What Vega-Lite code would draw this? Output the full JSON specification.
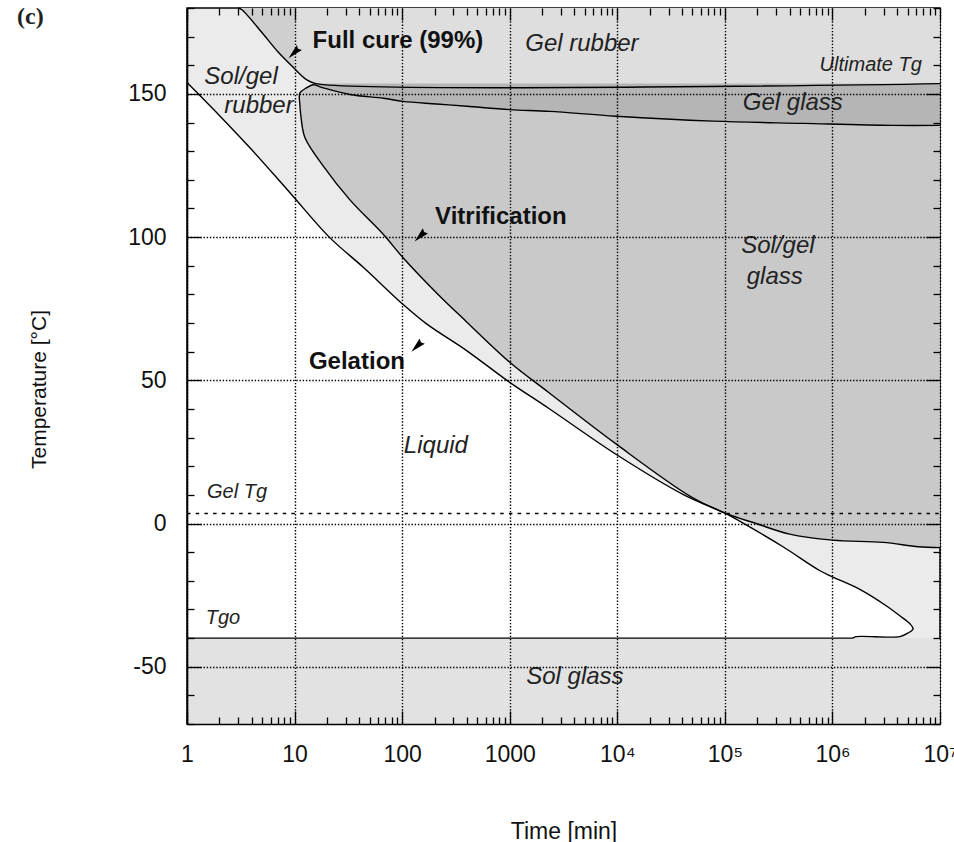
{
  "$schema": "https://vega.github.io/schema/vega-lite/v6.json",
  "width": 753,
  "height": 716,
  "autosize": "none",
  "padding": {"left": 187, "top": 8, "right": 14, "bottom": 118},
  "background": "white",
  "view": {"fill": "#ebebeb", "stroke": "#000", "strokeWidth": 1.5},
  "title": {"text": "(c)", "anchor": "start", "frame": "group", "font": "Liberation Serif", "fontSize": 24, "fontWeight": "bold", "color": "#222", "dx": -170, "dy": 51, "offset": 0, "baseline": "alphabetic"},
  "datasets": {
    "solglass": [{"t": 1, "T": -70, "T2": -40}, {"t": 10000000, "T": -70, "T2": -40}],
    "gelrubber": [
      {"t": 3.0, "T": 180, "T2": 180}, {"t": 3.24, "T": 179.4, "T2": 180}, {"t": 5.08, "T": 171, "T2": 180},
      {"t": 7.0, "T": 164.7, "T2": 180}, {"t": 9.7, "T": 159.3, "T2": 180}, {"t": 12.9, "T": 155, "T2": 180},
      {"t": 15.8, "T": 153.6, "T2": 180}, {"t": 10000000, "T": 153.6, "T2": 180}
    ],
    "wedge": [
      {"t": 3.0, "T": 180, "T2": 180}, {"t": 3.24, "T": 179.4, "T2": 180}, {"t": 5.08, "T": 171, "T2": 180},
      {"t": 7.0, "T": 164.7, "T2": 180}, {"t": 9.7, "T": 159.3, "T2": 180}, {"t": 10, "T": 158.9, "T2": 180}
    ],
    "liquid": [
      {"t": 1, "T": -40, "T2": 154}, {"t": 2, "T": -40, "T2": 142.5}, {"t": 4, "T": -40, "T2": 130.5},
      {"t": 9.06, "T": -40, "T2": 115.5}, {"t": 21, "T": -40, "T2": 100}, {"t": 44, "T": -40, "T2": 89.3},
      {"t": 102, "T": -40, "T2": 76.5}, {"t": 170, "T": -40, "T2": 69.6}, {"t": 400, "T": -40, "T2": 60.3},
      {"t": 1000, "T": -40, "T2": 49.3}, {"t": 2350, "T": -40, "T2": 40}, {"t": 9800, "T": -40, "T2": 24.1},
      {"t": 40700, "T": -40, "T2": 10.2}, {"t": 100000, "T": -40, "T2": 3.6}, {"t": 170000, "T": -40, "T2": -1.2},
      {"t": 350000, "T": -40, "T2": -8.2}, {"t": 760000, "T": -40, "T2": -16.4}, {"t": 1000000, "T": -40, "T2": -18.6},
      {"t": 1550000, "T": -40, "T2": -21.8}, {"t": 1660000, "T": -39.5, "T2": -22.3}, {"t": 1780000, "T": -39.5, "T2": -22.9},
      {"t": 3160000, "T": -39.5, "T2": -28.7}, {"t": 4230000, "T": -39.5, "T2": -32.2}, {"t": 5000000, "T": -38.3, "T2": -34.3},
      {"t": 5250000, "T": -37.8, "T2": -35}, {"t": 5620000, "T": -36.8, "T2": -36.8}
    ],
    "solgelglass": [
      {"t": 11.2, "T": 146.3, "T2": 150.3}, {"t": 11.5, "T": 141.6, "T2": 151}, {"t": 12.5, "T": 134.7, "T2": 151.7},
      {"t": 12.9, "T": 133.7, "T2": 152.1}, {"t": 14.9, "T": 129.5, "T2": 153.2}, {"t": 18.5, "T": 124.8, "T2": 152.1},
      {"t": 32.7, "T": 113, "T2": 149.8}, {"t": 67, "T": 100.9, "T2": 148.5}, {"t": 102, "T": 92.8, "T2": 147.4},
      {"t": 209, "T": 80.5, "T2": 146.5}, {"t": 400, "T": 70.3, "T2": 145.7}, {"t": 1000, "T": 56.3, "T2": 144.5},
      {"t": 2350, "T": 45.5, "T2": 143.9}, {"t": 9800, "T": 27.7, "T2": 142.2}, {"t": 47300, "T": 9.6, "T2": 140.9},
      {"t": 77600, "T": 5.7, "T2": 140.5}, {"t": 98000, "T": 3.8, "T2": 140.4}, {"t": 195000, "T": 0, "T2": 140.1},
      {"t": 400000, "T": -3.7, "T2": 139.9}, {"t": 540000, "T": -4.6, "T2": 139.7}, {"t": 1000000, "T": -5.8, "T2": 139.5},
      {"t": 2950000, "T": -6.6, "T2": 139.1}, {"t": 3600000, "T": -7, "T2": 139}, {"t": 6300000, "T": -8.1, "T2": 139},
      {"t": 10000000, "T": -8.4, "T2": 139}
    ],
    "gelglass": [
      {"t": 14.9, "T": 153.2, "T2": 153.6}, {"t": 18.5, "T": 152.1, "T2": 153.6}, {"t": 32.7, "T": 149.8, "T2": 153.6},
      {"t": 67, "T": 148.5, "T2": 153.6}, {"t": 102, "T": 147.4, "T2": 153.6}, {"t": 209, "T": 146.5, "T2": 153.6},
      {"t": 400, "T": 145.7, "T2": 153.6}, {"t": 1000, "T": 144.5, "T2": 153.6}, {"t": 2350, "T": 143.9, "T2": 153.6},
      {"t": 9800, "T": 142.2, "T2": 153.6}, {"t": 77600, "T": 140.5, "T2": 153.6}, {"t": 540000, "T": 139.7, "T2": 153.6},
      {"t": 3600000, "T": 139, "T2": 153.6}, {"t": 10000000, "T": 139, "T2": 153.6}
    ],
    "geltg": [{"t": 1, "T": 3.5}, {"t": 10000000, "T": 3.5}],
    "curves": [
      {"curve": "gelation", "i": 1, "t": 1, "T": 154}, {"curve": "gelation", "i": 2, "t": 2, "T": 142.5},
      {"curve": "gelation", "i": 3, "t": 4, "T": 130.5}, {"curve": "gelation", "i": 4, "t": 9.06, "T": 115.5},
      {"curve": "gelation", "i": 5, "t": 21, "T": 100}, {"curve": "gelation", "i": 6, "t": 44, "T": 89.3},
      {"curve": "gelation", "i": 7, "t": 102, "T": 76.5}, {"curve": "gelation", "i": 8, "t": 170, "T": 69.6},
      {"curve": "gelation", "i": 9, "t": 400, "T": 60.3}, {"curve": "gelation", "i": 10, "t": 1000, "T": 49.3},
      {"curve": "gelation", "i": 11, "t": 2350, "T": 40}, {"curve": "gelation", "i": 12, "t": 9800, "T": 24.1},
      {"curve": "gelation", "i": 13, "t": 40700, "T": 10.2}, {"curve": "gelation", "i": 14, "t": 100000, "T": 3.6},
      {"curve": "gelation", "i": 15, "t": 170000, "T": -1.2}, {"curve": "gelation", "i": 16, "t": 350000, "T": -8.2},
      {"curve": "gelation", "i": 17, "t": 760000, "T": -16.4}, {"curve": "gelation", "i": 18, "t": 1000000, "T": -18.6},
      {"curve": "gelation", "i": 19, "t": 1780000, "T": -22.9}, {"curve": "gelation", "i": 20, "t": 3160000, "T": -28.7},
      {"curve": "gelation", "i": 21, "t": 4230000, "T": -32.2}, {"curve": "gelation", "i": 22, "t": 5250000, "T": -35},
      {"curve": "gelation", "i": 23, "t": 5620000, "T": -36.8}, {"curve": "gelation", "i": 24, "t": 5000000, "T": -38.3},
      {"curve": "gelation", "i": 25, "t": 4230000, "T": -39.5}, {"curve": "gelation", "i": 26, "t": 1660000, "T": -39.5},
      {"curve": "gelation", "i": 27, "t": 1550000, "T": -40},
      {"curve": "vitrification", "i": 1, "t": 10000000, "T": 139}, {"curve": "vitrification", "i": 2, "t": 3600000, "T": 139},
      {"curve": "vitrification", "i": 3, "t": 540000, "T": 139.7}, {"curve": "vitrification", "i": 4, "t": 77600, "T": 140.5},
      {"curve": "vitrification", "i": 5, "t": 9800, "T": 142.2}, {"curve": "vitrification", "i": 6, "t": 2350, "T": 143.9},
      {"curve": "vitrification", "i": 7, "t": 1000, "T": 144.5}, {"curve": "vitrification", "i": 8, "t": 400, "T": 145.7},
      {"curve": "vitrification", "i": 9, "t": 209, "T": 146.5}, {"curve": "vitrification", "i": 10, "t": 102, "T": 147.4},
      {"curve": "vitrification", "i": 11, "t": 67, "T": 148.5}, {"curve": "vitrification", "i": 12, "t": 32.7, "T": 149.8},
      {"curve": "vitrification", "i": 13, "t": 18.5, "T": 152.1}, {"curve": "vitrification", "i": 14, "t": 14.9, "T": 153.2},
      {"curve": "vitrification", "i": 15, "t": 12.9, "T": 152.1}, {"curve": "vitrification", "i": 16, "t": 11.2, "T": 150.3},
      {"curve": "vitrification", "i": 17, "t": 11.2, "T": 146.3}, {"curve": "vitrification", "i": 18, "t": 11.5, "T": 141.6},
      {"curve": "vitrification", "i": 19, "t": 12.5, "T": 134.7}, {"curve": "vitrification", "i": 20, "t": 18.5, "T": 124.8},
      {"curve": "vitrification", "i": 21, "t": 32.7, "T": 113}, {"curve": "vitrification", "i": 22, "t": 67, "T": 100.9},
      {"curve": "vitrification", "i": 23, "t": 102, "T": 92.8}, {"curve": "vitrification", "i": 24, "t": 209, "T": 80.5},
      {"curve": "vitrification", "i": 25, "t": 400, "T": 70.3}, {"curve": "vitrification", "i": 26, "t": 1000, "T": 56.3},
      {"curve": "vitrification", "i": 27, "t": 2350, "T": 45.5}, {"curve": "vitrification", "i": 28, "t": 9800, "T": 27.7},
      {"curve": "vitrification", "i": 29, "t": 47300, "T": 9.6}, {"curve": "vitrification", "i": 30, "t": 98000, "T": 3.8},
      {"curve": "vitrification", "i": 31, "t": 195000, "T": 0}, {"curve": "vitrification", "i": 32, "t": 400000, "T": -3.7},
      {"curve": "vitrification", "i": 33, "t": 1000000, "T": -5.8}, {"curve": "vitrification", "i": 34, "t": 2950000, "T": -6.6},
      {"curve": "vitrification", "i": 35, "t": 6300000, "T": -8.1}, {"curve": "vitrification", "i": 36, "t": 10000000, "T": -8.4},
      {"curve": "fullcure", "i": 1, "t": 3.0, "T": 180}, {"curve": "fullcure", "i": 2, "t": 3.24, "T": 179.4},
      {"curve": "fullcure", "i": 3, "t": 5.08, "T": 171}, {"curve": "fullcure", "i": 4, "t": 7.0, "T": 164.7},
      {"curve": "fullcure", "i": 5, "t": 9.7, "T": 159.3}, {"curve": "fullcure", "i": 6, "t": 12.9, "T": 155},
      {"curve": "fullcure", "i": 7, "t": 15.8, "T": 153.6}, {"curve": "fullcure", "i": 8, "t": 10000000, "T": 153.6},
      {"curve": "tgo", "i": 1, "t": 1, "T": -40}, {"curve": "tgo", "i": 2, "t": 1550000, "T": -40}
    ],
    "boldlabels": [
      {"t": 91.4, "T": 168.6, "label": "Full cure (99%)"},
      {"t": 828, "T": 106.9, "label": "Vitrification"},
      {"t": 38, "T": 56.4, "label": "Gelation"}
    ],
    "italiclabels": [
      {"t": 4690, "T": 167.5, "label": "Gel rubber"},
      {"t": 3.18, "T": 156.0, "label": "Sol/gel"},
      {"t": 4.67, "T": 145.9, "label": "rubber"},
      {"t": 428000, "T": 146.8, "label": "Gel glass"},
      {"t": 311000, "T": 96.9, "label": "Sol/gel"},
      {"t": 291000, "T": 86.2, "label": "glass"},
      {"t": 206, "T": 27, "label": "Liquid"},
      {"t": 4036, "T": -53.7, "label": "Sol glass"}
    ],
    "smalllabels": [
      {"t": 2270000, "T": 160.2, "label": "Ultimate Tg"},
      {"t": 2.92, "T": 10.9, "label": "Gel Tg"},
      {"t": 2.16, "T": -33.0, "label": "Tgo"}
    ],
    "arrows": [
      {"t": 10.1, "T": 164.7},
      {"t": 150, "T": 100.7},
      {"t": 140, "T": 62.2}
    ]
  },
  "encoding": {
    "x": {"field": "t", "type": "quantitative", "scale": {"type": "log", "domain": [1, 10000000], "nice": false}, "axis": null},
    "y": {"field": "T", "type": "quantitative", "scale": {"domain": [-70, 180], "nice": false, "zero": false}, "axis": null}
  },
  "layer": [
    {
      "data": {"name": "solglass"},
      "mark": {"type": "area", "color": "#e2e2e2"},
      "encoding": {
        "x": {"field": "t", "type": "quantitative", "scale": {"type": "log", "domain": [1, 10000000], "nice": false},
          "axis": {
            "orient": "bottom",
            "values": [1,2,3,4,5,6,7,8,9,10,20,30,40,50,60,70,80,90,100,200,300,400,500,600,700,800,900,1000,2000,3000,4000,5000,6000,7000,8000,9000,10000,20000,30000,40000,50000,60000,70000,80000,90000,100000,200000,300000,400000,500000,600000,700000,800000,900000,1000000,2000000,3000000,4000000,5000000,6000000,7000000,8000000,9000000,10000000],
            "grid": true, "gridColor": "#000", "gridDash": [1.4, 1.8], "gridWidth": 1.4,
            "gridOpacity": {"condition": {"test": "abs(log(datum.value)/LN10 - round(log(datum.value)/LN10)) < 0.001", "value": 1}, "value": 0},
            "tickColor": "#000", "tickWidth": 1.3,
            "tickSize": {"condition": {"test": "abs(log(datum.value)/LN10 - round(log(datum.value)/LN10)) < 0.001", "value": -13}, "value": -7},
            "domainColor": "#000", "domainWidth": 1.5,
            "labelExpr": "abs(log(datum.value)/LN10 - round(log(datum.value)/LN10)) < 0.001 ? (datum.value < 5000 ? format(datum.value, 'd') : '10' + ['⁰','¹','²','³','⁴','⁵','⁶','⁷'][round(log(datum.value)/LN10)]) : ''",
            "labelFont": "Liberation Sans", "labelFontSize": 23, "labelColor": "#111", "labelPadding": 32,
            "labelFlush": false, "labelOverlap": false, "labelBound": false,
            "title": "Time [min]", "titleFont": "Liberation Sans", "titleFontSize": 23, "titleFontWeight": "normal", "titleColor": "#111", "titlePadding": 48,
            "zindex": 1
          }
        },
        "y": {"field": "T", "type": "quantitative", "scale": {"domain": [-70, 180], "nice": false, "zero": false},
          "axis": {
            "orient": "left",
            "values": [-70,-60,-50,-40,-30,-20,-10,0,10,20,30,40,50,60,70,80,90,100,110,120,130,140,150,160,170,180],
            "grid": true, "gridColor": "#000", "gridDash": [1.4, 1.8], "gridWidth": 1.4,
            "gridOpacity": {"condition": {"test": "datum.value % 50 == 0", "value": 1}, "value": 0},
            "tickColor": "#000", "tickWidth": 1.3,
            "tickSize": {"condition": {"test": "datum.value % 50 == 0", "value": -14}, "value": -7},
            "domainColor": "#000", "domainWidth": 1.5,
            "labelExpr": "datum.value % 50 == 0 ? toString(datum.value) : ''",
            "labelFont": "Liberation Sans", "labelFontSize": 23, "labelColor": "#111", "labelPadding": 35,
            "labelFlush": false, "labelOverlap": false, "labelBound": false,
            "title": "Temperature [°C]", "titleFont": "Liberation Sans", "titleFontSize": 21, "titleFontWeight": "normal", "titleColor": "#111", "titlePadding": 78, "titleY": 381,
            "zindex": 1
          }
        },
        "y2": {"field": "T2"}
      }
    },
    {"data": {"name": "gelrubber"}, "mark": {"type": "area", "color": "#dedede", "interpolate": "catmull-rom"}, "encoding": {"y2": {"field": "T2"}}},
    {"data": {"name": "wedge"}, "mark": {"type": "area", "color": "#cfcfcf", "interpolate": "catmull-rom"}, "encoding": {"y2": {"field": "T2"}}},
    {"data": {"name": "liquid"}, "mark": {"type": "area", "color": "#ffffff", "interpolate": "catmull-rom"}, "encoding": {"y2": {"field": "T2"}}},
    {"data": {"name": "solgelglass"}, "mark": {"type": "area", "color": "#c9c9c9", "interpolate": "catmull-rom"}, "encoding": {"y2": {"field": "T2"}}},
    {"data": {"name": "gelglass"}, "mark": {"type": "area", "color": "#b5b5b5", "interpolate": "catmull-rom"}, "encoding": {"y2": {"field": "T2"}}},
    {
      "data": {"name": "geltg"},
      "mark": {"type": "line", "color": "#000", "strokeWidth": 1.7, "strokeDash": [3.5, 5.2]},
      "encoding": {
        "x": {"field": "t", "type": "quantitative", "scale": {"type": "log", "domain": [1, 10000000], "nice": false},
          "axis": {
            "orient": "top",
            "values": [1,2,3,4,5,6,7,8,9,10,20,30,40,50,60,70,80,90,100,200,300,400,500,600,700,800,900,1000,2000,3000,4000,5000,6000,7000,8000,9000,10000,20000,30000,40000,50000,60000,70000,80000,90000,100000,200000,300000,400000,500000,600000,700000,800000,900000,1000000,2000000,3000000,4000000,5000000,6000000,7000000,8000000,9000000,10000000],
            "grid": false, "labels": false, "domain": false, "title": null,
            "tickColor": "#000", "tickWidth": 1.3,
            "tickSize": {"condition": {"test": "abs(log(datum.value)/LN10 - round(log(datum.value)/LN10)) < 0.001", "value": -12}, "value": -7},
            "zindex": 1
          }
        },
        "y": {"field": "T", "type": "quantitative", "scale": {"domain": [-70, 180], "nice": false, "zero": false},
          "axis": {
            "orient": "right",
            "values": [-70,-60,-50,-40,-30,-20,-10,0,10,20,30,40,50,60,70,80,90,100,110,120,130,140,150,160,170,180],
            "grid": false, "labels": false, "domain": false, "title": null,
            "tickColor": "#000", "tickWidth": 1.3,
            "tickSize": {"condition": {"test": "datum.value % 50 == 0", "value": -14}, "value": -7},
            "zindex": 1
          }
        }
      }
    },
    {
      "data": {"name": "curves"},
      "mark": {"type": "line", "color": "#000", "strokeWidth": 1.4, "interpolate": "catmull-rom"},
      "encoding": {
        "detail": {"field": "curve", "type": "nominal"},
        "order": {"field": "i", "type": "quantitative"}
      }
    },
    {
      "data": {"name": "boldlabels"},
      "mark": {"type": "text", "font": "Liberation Sans", "fontWeight": "bold", "fontSize": 24, "align": "center", "baseline": "middle", "color": "#111"},
      "encoding": {"text": {"field": "label"}}
    },
    {
      "data": {"name": "italiclabels"},
      "mark": {"type": "text", "font": "Liberation Sans", "fontStyle": "italic", "fontSize": 24, "align": "center", "baseline": "middle", "color": "#222"},
      "encoding": {"text": {"field": "label"}}
    },
    {
      "data": {"name": "smalllabels"},
      "mark": {"type": "text", "font": "Liberation Sans", "fontStyle": "italic", "fontSize": 20, "align": "center", "baseline": "middle", "color": "#222"},
      "encoding": {"text": {"field": "label"}}
    },
    {
      "data": {"name": "arrows"},
      "mark": {"type": "point", "filled": true, "color": "#000", "opacity": 1, "size": 300, "shape": "M-0.75,0.75 L0.8,-0.2 L0.35,-0.35 L0.2,-0.8 Z"},
      "encoding": {}
    }
  ],
  "resolve": {"axis": {"x": "independent", "y": "independent"}}
}
